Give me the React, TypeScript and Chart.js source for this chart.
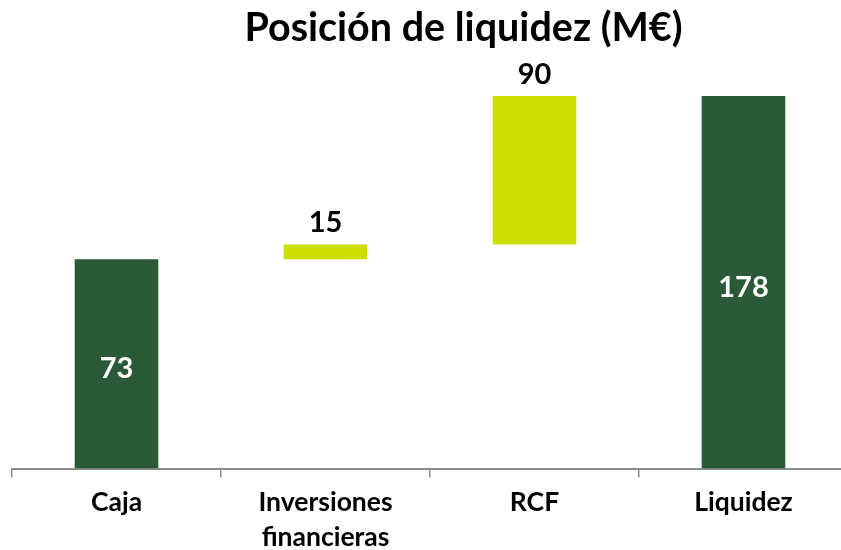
import React, { useEffect, useRef } from "react";
import { Chart, registerables } from "chart.js";

Chart.register(...registerables);

// ---- data ----
const chartTitle = "Posición de liquidez (M€)";
const categories: string[][] = [["Caja"], ["Inversiones", "financieras"], ["RCF"], ["Liquidez"]];
const valueLabels = [73, 15, 90, 178];
// bar extents as drawn in the picture (hidden value axis)
const barStarts = [0, 100, 107, 0];
const barEnds = [100, 107, 178, 178];
const barKinds = ["total", "step", "step", "total"];
const valueAxisMax = 200;

const DARK = "#2A5A38";
const LIGHT = "#CCDF00";
const AXIS = "#8C8C8C";
const FONT = "Lato";

export default function App() {
  const ref = useRef<HTMLCanvasElement>(null);

  useEffect(() => {
    if (!ref.current) return;

    const titlePlugin = {
      id: "customTitle",
      afterDraw(chart: any) {
        const ctx = chart.ctx;
        ctx.save();
        ctx.font = `bold 39.5px ${FONT}`;
        ctx.fillStyle = "#000";
        ctx.textAlign = "center";
        ctx.textBaseline = "middle";
        ctx.fillText(chartTitle, 463.5, 28);
        ctx.restore();
      },
    };

    const labelPlugin = {
      id: "valueLabels",
      afterDatasetsDraw(chart: any) {
        const ctx = chart.ctx;
        const meta = chart.getDatasetMeta(0);
        ctx.save();
        ctx.font = `bold 29px ${FONT}`;
        ctx.textAlign = "center";
        ctx.textBaseline = "middle";
        meta.data.forEach((bar: any, i: number) => {
          const { x, y, base } = bar.getProps(["x", "y", "base"], true);
          const top = Math.min(y, base);
          const bottom = Math.max(y, base);
          if (barKinds[i] === "total") {
            ctx.fillStyle = "#FFFFFF";
            ctx.fillText(String(valueLabels[i]), x, (top + bottom) / 2 + 5);
          } else {
            ctx.fillStyle = "#000000";
            ctx.fillText(String(valueLabels[i]), x, top - 21.5);
          }
        });
        ctx.restore();
      },
    };

    const chart = new Chart(ref.current, {
      type: "bar",
      data: {
        labels: categories,
        datasets: [
          {
            data: barStarts.map((s, i) => [s, barEnds[i]]) as any,
            backgroundColor: barKinds.map((k) => (k === "total" ? DARK : LIGHT)),
            borderWidth: 0,
            categoryPercentage: 1,
            barPercentage: 0.4,
          },
        ],
      },
      options: {
        responsive: false,
        animation: false,
        devicePixelRatio: 1,
        layout: { padding: { top: 50, left: 12, right: 12, bottom: 0 } },
        plugins: {
          legend: { display: false },
          tooltip: { enabled: false },
          title: { display: false },
        },
        scales: {
          x: {
            offset: true,
            grid: {
              offset: true,
              drawOnChartArea: false,
              drawTicks: true,
              tickLength: 9,
              color: AXIS,
              lineWidth: 1.5,
            },
            border: { display: true, color: AXIS, width: 2 },
            ticks: {
              color: "#000",
              padding: 7,
              font: { family: FONT, size: 26.5, weight: "bold", lineHeight: 1.33 },
              maxRotation: 0,
              autoSkip: false,
            },
          },
          y: {
            display: false,
            min: 0,
            max: valueAxisMax,
          },
        },
      },
      plugins: [titlePlugin, labelPlugin],
    });

    return () => chart.destroy();
  }, []);

  return (
    <div
      style={{
        position: "absolute",
        left: 0,
        top: 0,
        width: 841,
        height: 550,
        overflow: "hidden",
        background: "#FFFFFF",
      }}
    >
      <canvas ref={ref} width={860} height={562} style={{ display: "block", width: 860, height: 562 }} />
    </div>
  );
}
